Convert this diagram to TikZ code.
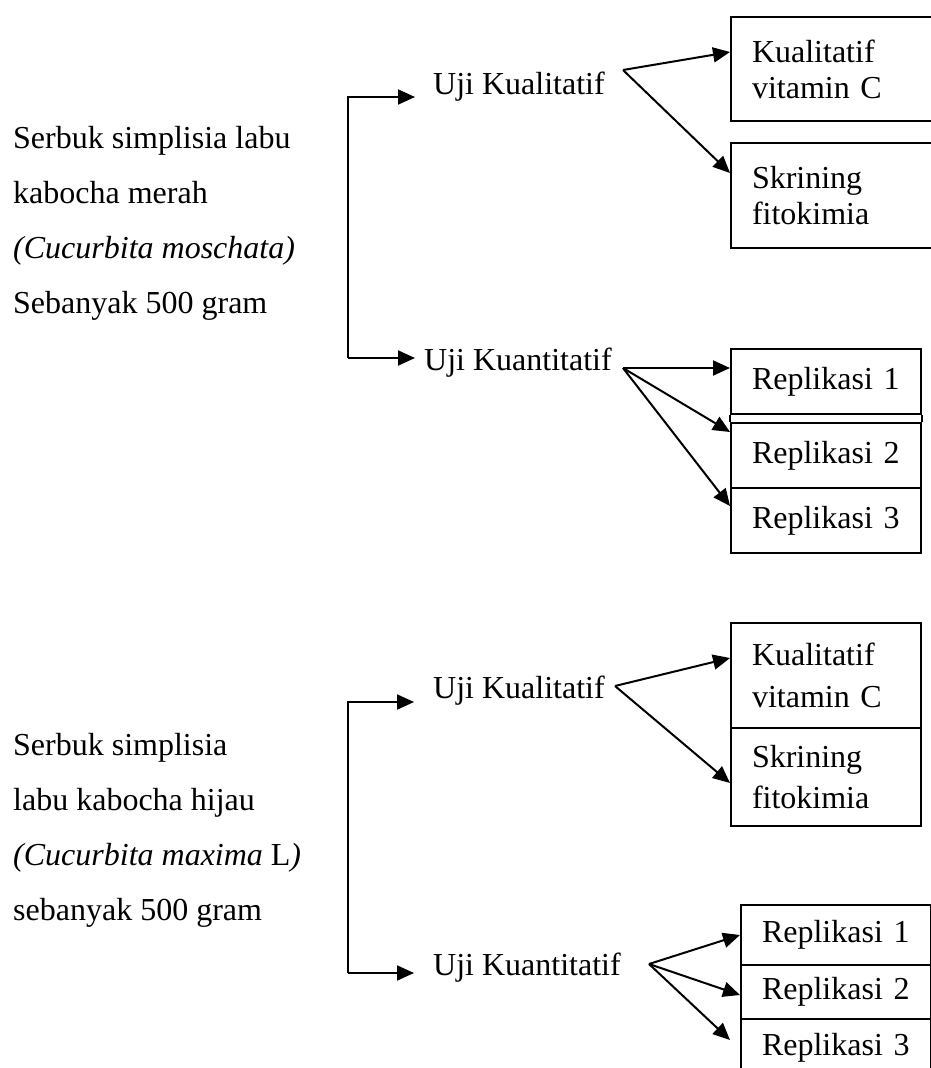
\documentclass[tikz,border=0pt]{standalone}
\usepackage{fontspec}
\setmainfont{Liberation Serif}
\usetikzlibrary{arrows.meta,calc}

\begin{document}
\begin{tikzpicture}[x=1pt, y=-1pt, every node/.style={font=\fontsize{32}{36}\selectfont, inner sep=0pt}]
  \tikzset{
    stepbox/.style={draw, line width=2pt, anchor=north west, inner xsep=21pt, inner ysep=0pt, text width=148pt, align=left},
    uji/.style={anchor=base west, inner ysep=0pt},
    arr/.style={line width=2pt, -{Triangle[length=17pt, width=15pt]}}
  }
  \useasboundingbox (0,0) rectangle (931,1068);

  % Labu merah
  \node[anchor=north west, align=left, font=\fontsize{32}{55}\selectfont] (sM) at (13,126)
    {Serbuk simplisia labu\\kabocha merah\\\textit{(Cucurbita moschata)}\\Sebanyak 500 gram};
  \node[uji, inner xsep=18pt] (uA) at (415,94)  {Uji Kualitatif};
  \node[uji, inner xsep=9pt]  (uB) at (415,370) {Uji Kuantitatif};

  \node[stepbox, text width=164pt, minimum height=104pt] (kv1) at (730,16)  {Kualitatif\\vitamin C};
  \node[stepbox, text width=164pt, minimum height=105pt] (sf1) at (730,142) {Skrining\\fitokimia};
  \node[stepbox, minimum height=65pt] (r1) at (730,348) {Replikasi 1};
  \node[stepbox, minimum height=65pt] (r2) at (730,422) {Replikasi 2};
  \node[stepbox, minimum height=65pt] (r3) at (730,487) {Replikasi 3};
  \draw[line width=2pt] (r1.south west) -- (r2.north west);
  \draw[line width=2pt] (r1.south east) -- (r2.north east);

  \coordinate (k1) at (348,97);
  \coordinate (k2) at (348,358);
  \draw[arr] (k2) -- (k1) -- (k1 -| uA.west);
  \draw[arr] (k2) -- (k2 -| uB.west);

  \coordinate (f1) at (623,70);
  \coordinate (f2) at (623,368);
  \draw[arr] (f1) -- ([yshift=-36pt]kv1.north west);
  \draw[arr] (f1) -- ([yshift=-31pt]sf1.north west);
  \draw[arr] (f2) -- ([yshift=-20pt]r1.north west);
  \draw[arr] (f2) -- ([yshift=-10pt]r2.north west);
  \draw[arr] (f2) -- ([yshift=-19pt]r3.north west);

  % Labu hijau
  \node[anchor=north west, align=left, font=\fontsize{32}{55}\selectfont] (sH) at (13,733)
    {Serbuk simplisia\\labu kabocha hijau\\\textit{(Cucurbita maxima} L\textit{)}\\sebanyak 500 gram};
  \node[uji, inner xsep=19pt] (uC) at (414,698) {Uji Kualitatif};
  \node[uji, inner xsep=19pt] (uD) at (414,975) {Uji Kuantitatif};

  \node[stepbox, minimum height=105pt, font=\fontsize{32}{42}\selectfont] (kv2) at (730,622) {Kualitatif\\vitamin C};
  \node[stepbox, minimum height=98pt, font=\fontsize{32}{41}\selectfont]  (sf2) at (730,727) {Skrining\\fitokimia};
  \node[stepbox, minimum height=60pt] (r4) at (740,904)  {Replikasi 1};
  \node[stepbox, minimum height=54pt] (r5) at (740,964)  {Replikasi 2};
  \node[stepbox, minimum height=58pt] (r6) at (740,1018) {Replikasi 3};

  \coordinate (k3) at (348,702);
  \coordinate (k4) at (348,973);
  \draw[arr] (k4) -- (k3) -- (k3 -| uC.west);
  \draw[arr] (k4) -- (k4 -| uD.west);

  \coordinate (f3) at (615,686);
  \coordinate (f4) at (649,964);
  \draw[arr] (f3) -- ([yshift=-36pt]kv2.north west);
  \draw[arr] (f3) -- ([yshift=-56pt]sf2.north west);
  \draw[arr] (f4) -- ([yshift=-31pt]r4.north west);
  \draw[arr] (f4) -- ([yshift=-31pt]r5.north west);
  \draw[arr] (f4) -- ([shift={(-10pt,-22pt)}]r6.north west);
\end{tikzpicture}
\end{document}
